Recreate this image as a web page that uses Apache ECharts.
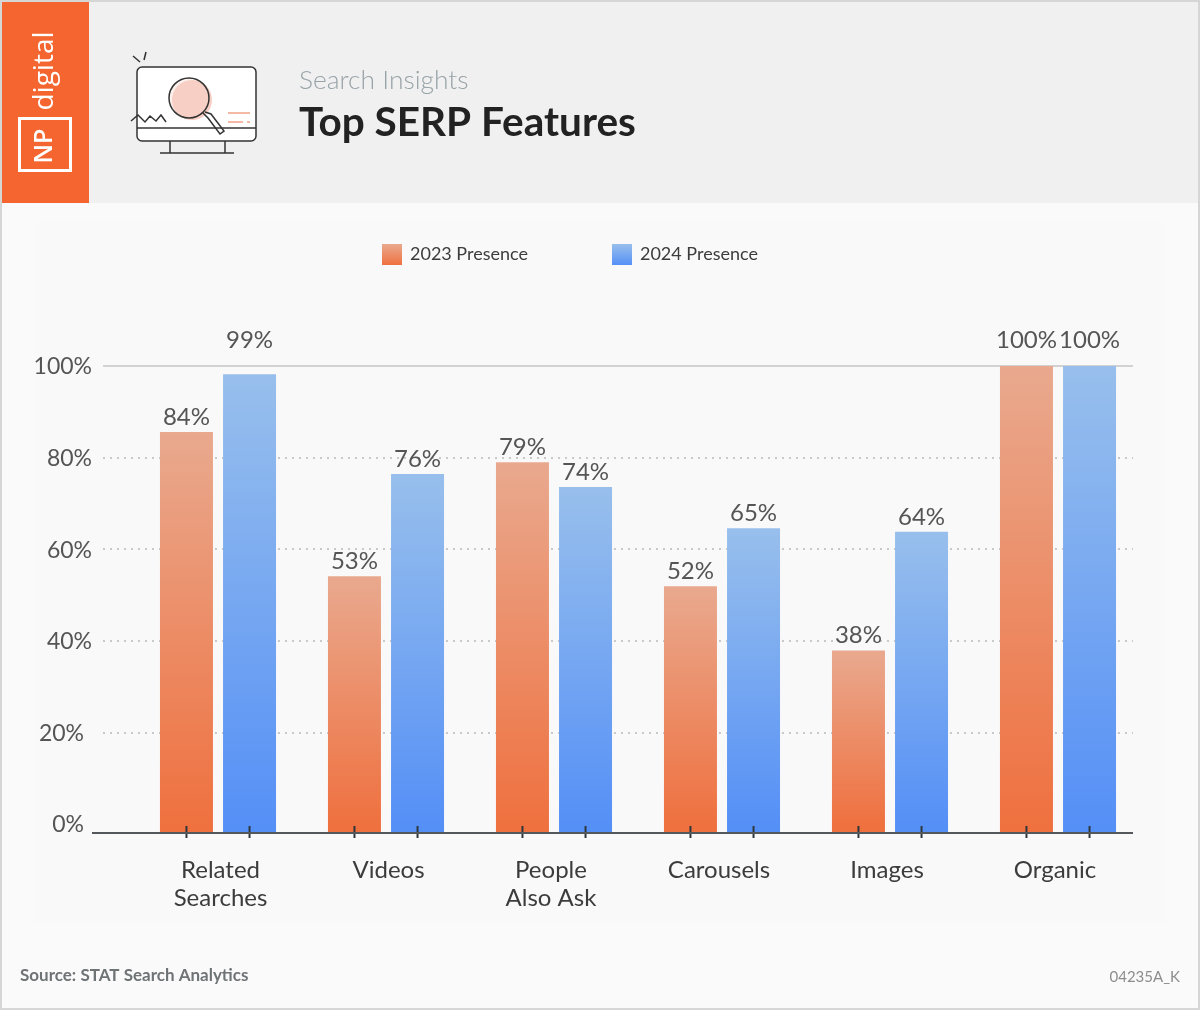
<!DOCTYPE html>
<html><head><meta charset="utf-8">
<style>html,body{margin:0;padding:0;background:#fafafa}#c{width:1200px;height:1010px}</style>
<script src="https://cdn.jsdelivr.net/npm/echarts@6/dist/echarts.min.js"></script>
</head><body><div id="c"></div>
<script>
const categories = ['Related\nSearches','Videos','People\nAlso Ask','Carousels','Images','Organic'];
const seriesNames = ['2023 Presence','2024 Presence'];
// printed labels
const labels2023 = ['84%','53%','79%','52%','38%','100%'];
const labels2024 = ['99%','76%','74%','65%','64%','100%'];
// bar heights as read against the y axis gridlines
const heights2023 = [85.6,54.1,79,51.9,37.9,100];
const heights2024 = [98.2,76.4,73.6,64.6,63.8,100];
const yTicks = [0,20,40,60,80,100];

const FONT='Lato';
const chart=echarts.init(document.getElementById('c'),null,{renderer:'canvas'});
const grad=(a,b)=>new echarts.graphic.LinearGradient(0,0,0,1,[{offset:0,color:a},{offset:1,color:b}]);
const orange=grad('#e9a98e','#ef7140'), blue=grad('#98bfec','#5590f6');
const floorVal=-9/4.58;
const lift=(i,labels)=> (labels[i]==='99%'?-19:(labels[i]==='100%'?-11:0));
const mainSeries=(name,vals,labs,color,stack)=>({
  name,type:'bar',stack,xAxisIndex:0,yAxisIndex:0,barWidth:53,barGap:'19%',z:3,
  itemStyle:{color},
  label:{show:true,position:'top',distance:3,fontFamily:FONT,fontSize:24,color:'#555'},
  data:vals.map((v,i)=>({value:v,label:{formatter:labs[i],offset:[0,lift(i,labs)]}}))
});
const stub=(vals,color,stack)=>({
  type:'bar',stack,xAxisIndex:0,yAxisIndex:0,barWidth:53,barGap:'19%',z:3,silent:true,
  itemStyle:{color},
  label:{show:true,position:'bottom',distance:0,offset:[0,-7],formatter:'{t| }',
    rich:{t:{width:2,height:12,backgroundColor:'#2f363c'}}},
  data:vals.map(()=>floorVal)
});
const T=(text,x,y,size,color,weight,extra)=>({type:'text',x,y,z:5,silent:true,...extra,
  style:{text,fontFamily:(extra&&extra.f)||FONT,fontSize:size,fill:color,fontWeight:weight||'normal',textVerticalAlign:'middle',...(extra&&extra.s)}});
const L=(x1,y1,x2,y2,c,w)=>({type:'line',z:6,silent:true,shape:{x1,y1,x2,y2},style:{stroke:c||'#333',lineWidth:w||1.5}});
const P=(points,c,w)=>({type:'polyline',z:6,silent:true,shape:{points},style:{stroke:c||'#333',lineWidth:w||1.5,fill:null}});

const catStyle={fontFamily:FONT,fontSize:24,lineHeight:28,color:'#3c3c3c'};
chart.setOption({
  animation:false,
  backgroundColor:'#fafafa',
  legend:{data:seriesNames,left:382,top:244,padding:0,itemWidth:20,itemHeight:21,itemGap:84,icon:'rect',
    textStyle:{fontFamily:FONT,fontSize:18,color:'#3c3c3c',padding:[0,0,0,3]}},
  grid:[
    {left:134,width:1008,top:366,height:467},
    {left:103,width:1030,top:366,height:458}
  ],
  xAxis:[
    {type:'category',gridIndex:0,data:categories,position:'bottom',axisLine:{show:false},axisTick:{show:false},
      axisLabel:{margin:23,interval:0,...catStyle,
        formatter:(v,i)=>v.split('\n').map(t=>`{${i<2?'l':'r'}|${t}}`).join('\n'),
        rich:{l:{...catStyle,padding:[0,0,0,5]},r:{...catStyle,padding:[0,6,0,0]}}}},
    {type:'category',gridIndex:1,show:false,data:categories}
  ],
  yAxis:[
    {type:'value',gridIndex:0,show:false,min:floorVal,max:100},
    {type:'value',gridIndex:1,min:0,max:100,interval:20,z:1,axisLine:{show:false},axisTick:{show:false},
      axisLabel:{margin:11,fontFamily:FONT,fontSize:23,color:'#555',customValues:yTicks,
        formatter:v=>v<=20?`{s|${v}%}`:`{n|${v}%}`,
        rich:{n:{fontFamily:FONT,fontSize:23,color:'#555',padding:[2,0,0,0]},s:{fontFamily:FONT,fontSize:23,color:'#555',padding:[2,8,0,0]}}},
      splitLine:{show:true,showMinLine:false,showMaxLine:false,lineStyle:{color:'#c9c9c9',type:[2,5],width:2}}},
    {type:'value',gridIndex:1,min:0,max:100,interval:100,position:'right',z:1,axisLine:{show:false},axisTick:{show:false},axisLabel:{show:false},
      splitLine:{show:true,showMinLine:false,lineStyle:{color:'#d2d2d2',width:2,type:'solid'}}}
  ],
  series:[
    mainSeries(seriesNames[0],heights2023,labels2023,orange,'a'),
    stub(heights2023,'#ef7140','a'),
    mainSeries(seriesNames[1],heights2024,labels2024,blue,'b'),
    stub(heights2024,'#5590f6','b')
  ],
  graphic:[
    {type:'rect',z:-10,silent:true,shape:{x:35,y:222,width:1130,height:701},style:{fill:'#f9f9f9'}},
    {type:'rect',z:-9,silent:true,shape:{x:1,y:1,width:1198,height:1008},style:{fill:null,stroke:'#d6d6d6',lineWidth:2}},
    {type:'rect',z:-8,silent:true,shape:{x:2,y:2,width:1196,height:201},style:{fill:'#f0f0f0'}},
    {type:'rect',z:-7,silent:true,shape:{x:2,y:2,width:87,height:201},style:{fill:'#f4652f'}},
    {type:'rect',z:5,silent:true,shape:{x:19.5,y:118.5,width:51,height:52},style:{fill:null,stroke:'#fff',lineWidth:3}},
    T('digital',45,71,28,'#fff','500',{f:'Open Sans',rotation:Math.PI/2,s:{textAlign:'center'}}),
    T('NP',45,146,25,'#fff','600',{f:'Open Sans',rotation:Math.PI/2,s:{textAlign:'center'}}),
    // monitor icon
    {type:'rect',z:5,silent:true,shape:{x:137,y:67,width:119,height:74,r:5},style:{fill:'#fff',stroke:'#333',lineWidth:1.5}},
    L(137,128,256,128),L(170,141,170,153),L(225,141,225,153),L(160,153,234,153),
    L(133,56,140,62),L(146,52,144,60),
    {type:'circle',z:6,silent:true,shape:{cx:192,cy:100,r:20},style:{fill:'#f8cfc5'}},
    {type:'circle',z:7,silent:true,shape:{cx:189,cy:98,r:20},style:{fill:'rgba(248,207,197,0.3)',stroke:'#333',lineWidth:1.5}},
    P([[203,113],[208,118],[220,134],[224,131],[211,114],[205,112]]),
    P([[131,121],[138,115],[145,122],[150,116],[156,121],[161,115],[166,122]]),
    L(228,113,250,113,'#f2a184',1.5),L(228,122,243,122,'#f2a184',1.5),L(247,122,250,122,'#f2a184',1.5),
    // titles
    T('Search Insights',299,80,26.4,'#98a3a8','300'),
    T('Top SERP Features',299,123,40.5,'#222','bold'),
    // baseline
    L(92,833,1133,833,'#55585a',2.2),
    // footer
    T('Source: STAT Search Analytics',20,976,17,'#6e7376','bold'),
    T('04235A_K',1180,977,15,'#8d8d8d','normal',{s:{textAlign:'right'}})
  ]
});
</script></body></html>
